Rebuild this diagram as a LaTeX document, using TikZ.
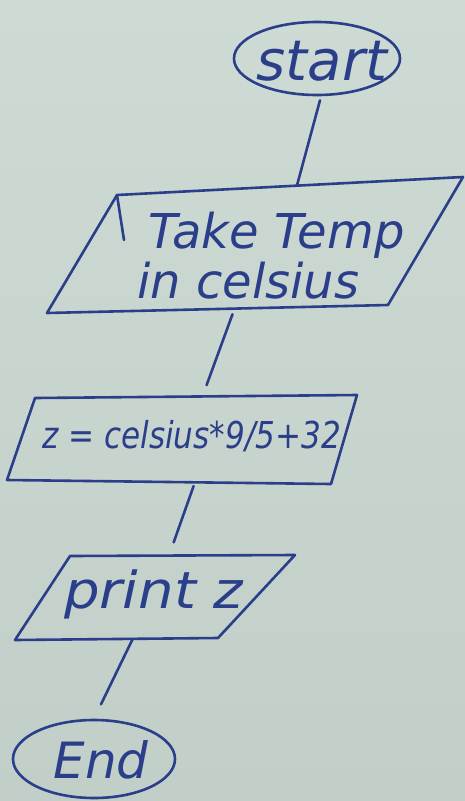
\documentclass[tikz,border=0pt]{standalone}
\usepackage{fontspec}
\setmainfont{DejaVu Sans}
\usetikzlibrary{shapes.geometric,calc}
\definecolor{paperTop}{RGB}{206,218,212}
\definecolor{paperBot}{RGB}{194,207,201}
\definecolor{ink}{RGB}{42,62,138}
\begin{document}
\begin{tikzpicture}[x=1pt,y=-1pt,
  inkline/.style={draw=ink,line width=2.6pt,line cap=round,line join=round},
  hand/.style={text=ink,font=\itshape,inner sep=0pt},
  term/.style={ellipse,draw=ink,line width=2.6pt,inner sep=0pt}]
\fill[top color=paperTop,bottom color=paperBot] (0,0) rectangle (465,801);
\useasboundingbox (0,0) rectangle (465,801);

% start terminal
\node[term,minimum width=166pt,minimum height=73pt] (start) at (317,58.5) {};
\node[hand,anchor=base] (startText) at (322,80) {\fontsize{56}{56}\selectfont start};

% input parallelogram
\coordinate (p1a) at (117,195);
\coordinate (p1b) at (463,177);
\coordinate (p1c) at (388,305);
\coordinate (p1d) at (47,313);
\coordinate (p1tick) at (124,240);
\draw[inkline] (p1a) -- (p1b) -- (p1c) -- (p1d) -- cycle;
\draw[inkline] (p1a) -- (p1tick);
\node[hand,anchor=base west] (t1a) at (148,248) {\fontsize{48}{48}\selectfont Take Temp};
\node[hand,anchor=base west] (t1b) at (137,298) {\fontsize{48}{48}\selectfont in celsius};

% process box
\coordinate (b2a) at (35,398);
\coordinate (b2b) at (357,395);
\coordinate (b2c) at (331,484);
\coordinate (b2d) at (7,480);
\draw[inkline] (b2a) -- (b2b) -- (b2c) -- (b2d) -- cycle;
\node[hand,anchor=base west] (t2) at (42,448) {\scalebox{0.84}[1]{\fontsize{37}{37}\selectfont z = celsius*9/5+32}};

% output parallelogram
\coordinate (b3a) at (70,556);
\coordinate (b3b) at (295,555);
\coordinate (b3c) at (218,638);
\coordinate (b3d) at (15,640);
\draw[inkline] (b3a) -- (b3b) -- (b3c) -- (b3d) -- cycle;
\node[hand,anchor=base west] (t3) at (64,608) {\scalebox{1.1}[1]{\fontsize{51}{51}\selectfont print z}};

% end terminal
\node[term,minimum width=162pt,minimum height=78pt] (end) at (94,759) {};
\node[hand,anchor=base] (endText) at (101,778) {\fontsize{50}{50}\selectfont End};

% connectors
\coordinate (c1a) at ($(p1a)!0.52!(p1b)$);
\draw[inkline] ($(start.south)+(3,4)$) -- (c1a);
\coordinate (c2a) at ($(p1d)!0.55!(p1c)$);
\coordinate (c2b) at ($(b2a)!0.52!(b2b)$);
\draw[inkline,shorten <=6pt,shorten >=12pt] (c2a) -- (c2b);
\coordinate (c3a) at ($(b2d)!0.58!(b2c)$);
\coordinate (c3b) at ($(b3a)!0.44!(b3b)$);
\draw[inkline,shorten <=4pt,shorten >=14pt] (c3a) -- (c3b);
\coordinate (c4a) at ($(b3d)!0.58!(b3c)$);
\draw[inkline,shorten >=16pt] (c4a) -- (end.north);
\end{tikzpicture}
\end{document}
